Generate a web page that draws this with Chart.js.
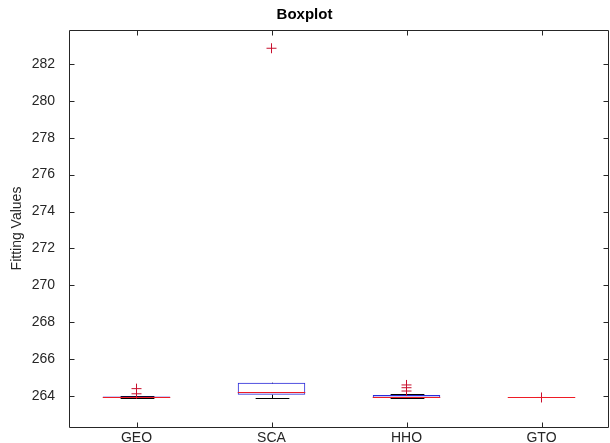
<!DOCTYPE html>
<html>
<head>
<meta charset="utf-8">
<script src="https://cdn.jsdelivr.net/npm/chart.js@4.4.1/dist/chart.umd.min.js"></script>
<style>
  html, body { margin: 0; padding: 0; background: #fff; }
  #wrap { width: 610px; height: 443px; }
</style>
</head>
<body>
<div id="wrap"><canvas id="c" width="610" height="443"></canvas></div>
<script>
// Algorithms compared
const categories = ['GEO', 'SCA', 'HHO', 'GTO'];

// Box statistics per algorithm
const lowerWhisker = [263.88, 263.90, 263.88, 263.92];
const quartile1    = [263.90, 264.07, 263.90, 263.92];
const medians      = [263.93, 264.23, 263.95, 263.92];
const quartile3    = [263.97, 264.72, 264.05, 263.92];
const upperWhisker = [264.02, 264.72, 264.12, 263.92];

// Outliers per algorithm
const outliers = [
  [264.12, 264.4],
  [282.85],
  [264.27, 264.45, 264.6],
  [263.92]
];

// Y axis range and tick step
const yMin = 262.32;
const yMax = 283.84;
const yStep = 2;

const axisColor = '#262626';
const boxColor = '#2b2bd9';
const medianColor = '#ee1c25';
const outlierColor = '#c8102e';

const boxData = categories.map((c, i) => [quartile1[i], quartile3[i]]);
const outlierData = [];
categories.forEach((c, i) => outliers[i].forEach(v => outlierData.push({ x: c, y: v })));

const crisp = v => Math.round(v) + 0.5;

// Whiskers and caps go under the boxes, medians on top; all placed via the scales
const boxParts = {
  id: 'boxParts',
  beforeDatasetsDraw(chart) {
    const { ctx, scales: { x, y } } = chart;
    const meta = chart.getDatasetMeta(0);
    ctx.save();
    ctx.strokeStyle = '#000';
    ctx.lineWidth = 1;
    categories.forEach((c, i) => {
      const cx = crisp(x.getPixelForValue(i));
      const capHalf = meta.data[i].width / 4;
      const yu = crisp(y.getPixelForValue(upperWhisker[i]));
      const yl = crisp(y.getPixelForValue(lowerWhisker[i]));
      ctx.setLineDash([4, 3]);
      ctx.beginPath();
      ctx.moveTo(cx, y.getPixelForValue(quartile3[i]));
      ctx.lineTo(cx, yu);
      ctx.moveTo(cx, y.getPixelForValue(quartile1[i]));
      ctx.lineTo(cx, yl);
      ctx.stroke();
      ctx.setLineDash([]);
      ctx.beginPath();
      if (upperWhisker[i] > quartile3[i]) {
        ctx.moveTo(cx - capHalf, yu); ctx.lineTo(cx + capHalf, yu);
      }
      if (lowerWhisker[i] < quartile1[i]) {
        ctx.moveTo(cx - capHalf, yl); ctx.lineTo(cx + capHalf, yl);
      }
      ctx.stroke();
    });
    ctx.restore();
  },
  afterDatasetsDraw(chart) {
    const { ctx, scales: { x, y } } = chart;
    const meta = chart.getDatasetMeta(0);
    ctx.save();
    ctx.strokeStyle = medianColor;
    ctx.lineWidth = 1;
    categories.forEach((c, i) => {
      const cx = x.getPixelForValue(i);
      const half = meta.data[i].width / 2;
      const ym = crisp(y.getPixelForValue(medians[i]));
      ctx.beginPath();
      ctx.moveTo(cx - half, ym); ctx.lineTo(cx + half, ym);
      ctx.stroke();
    });
    ctx.restore();
  }
};

// Axes box with inward tick marks on all four sides
const axesFrame = {
  id: 'axesFrame',
  afterDraw(chart) {
    const { ctx, chartArea: a, scales: { x, y } } = chart;
    const t = 5;
    ctx.save();
    ctx.strokeStyle = axisColor;
    ctx.lineWidth = 1;
    const l = crisp(a.left), r = crisp(a.right) - 1, tp = crisp(a.top), b = crisp(a.bottom);
    ctx.beginPath();
    ctx.rect(l, tp, r - l, b - tp);
    ctx.stroke();
    ctx.beginPath();
    y.ticks.forEach(tk => {
      const py = crisp(y.getPixelForValue(tk.value));
      ctx.moveTo(l, py); ctx.lineTo(l + t, py);
      ctx.moveTo(r, py); ctx.lineTo(r - t, py);
    });
    x.ticks.forEach((tk, i) => {
      const px = crisp(x.getPixelForValue(i));
      ctx.moveTo(px, b); ctx.lineTo(px, b - t);
      ctx.moveTo(px, tp); ctx.lineTo(px, tp + t);
    });
    ctx.stroke();
    ctx.restore();
  }
};

new Chart(document.getElementById('c'), {
  data: {
    labels: categories,
    datasets: [
      {
        type: 'bar',
        data: boxData,
        backgroundColor: 'rgba(0,0,0,0)',
        // a collapsed box shows only its median line
        borderColor: c => (quartile1[c.dataIndex] === quartile3[c.dataIndex] ? 'rgba(0,0,0,0)' : boxColor),
        borderWidth: 1,
        borderSkipped: false,
        barPercentage: 0.5,
        categoryPercentage: 1.0,
        order: 2
      },
      {
        type: 'line',
        data: outlierData,
        showLine: false,
        pointStyle: 'cross',
        pointRadius: 5,
        pointBorderWidth: 1,
        pointBorderColor: outlierColor,
        pointBackgroundColor: outlierColor,
        clip: false,
        order: 1
      }
    ]
  },
  options: {
    responsive: false,
    animation: false,
    layout: { autoPadding: false, padding: { left: 0, right: 1, top: 0, bottom: 0 } },
    plugins: {
      legend: { display: false },
      tooltip: { enabled: false },
      title: {
        display: true,
        text: 'Boxplot',
        color: '#000',
        font: { family: 'Liberation Sans', size: 15, weight: 'bold' },
        padding: { top: 6, bottom: 6 }
      }
    },
    scales: {
      x: {
        type: 'category',
        grid: { display: false, drawTicks: false },
        border: { display: false },
        ticks: {
          color: axisColor,
          font: { family: 'Liberation Sans', size: 14 },
          padding: 3
        },
        afterFit(s) { s.height = 16; }
      },
      y: {
        type: 'linear',
        min: yMin,
        max: yMax,
        grid: { display: false, drawTicks: false },
        border: { display: false },
        ticks: {
          stepSize: yStep,
          includeBounds: false,
          color: axisColor,
          font: { family: 'Liberation Sans', size: 14 },
          padding: 14
        },
        title: {
          display: true,
          text: 'Fitting Values',
          color: axisColor,
          font: { family: 'Liberation Sans', size: 14 },
          padding: { top: 9, bottom: 0 }
        },
        afterFit(s) {
          s.width = 69;
          s.paddingTop = 0;
          s.paddingBottom = 0;
        }
      }
    }
  },
  plugins: [boxParts, axesFrame]
});
</script>
</body>
</html>
